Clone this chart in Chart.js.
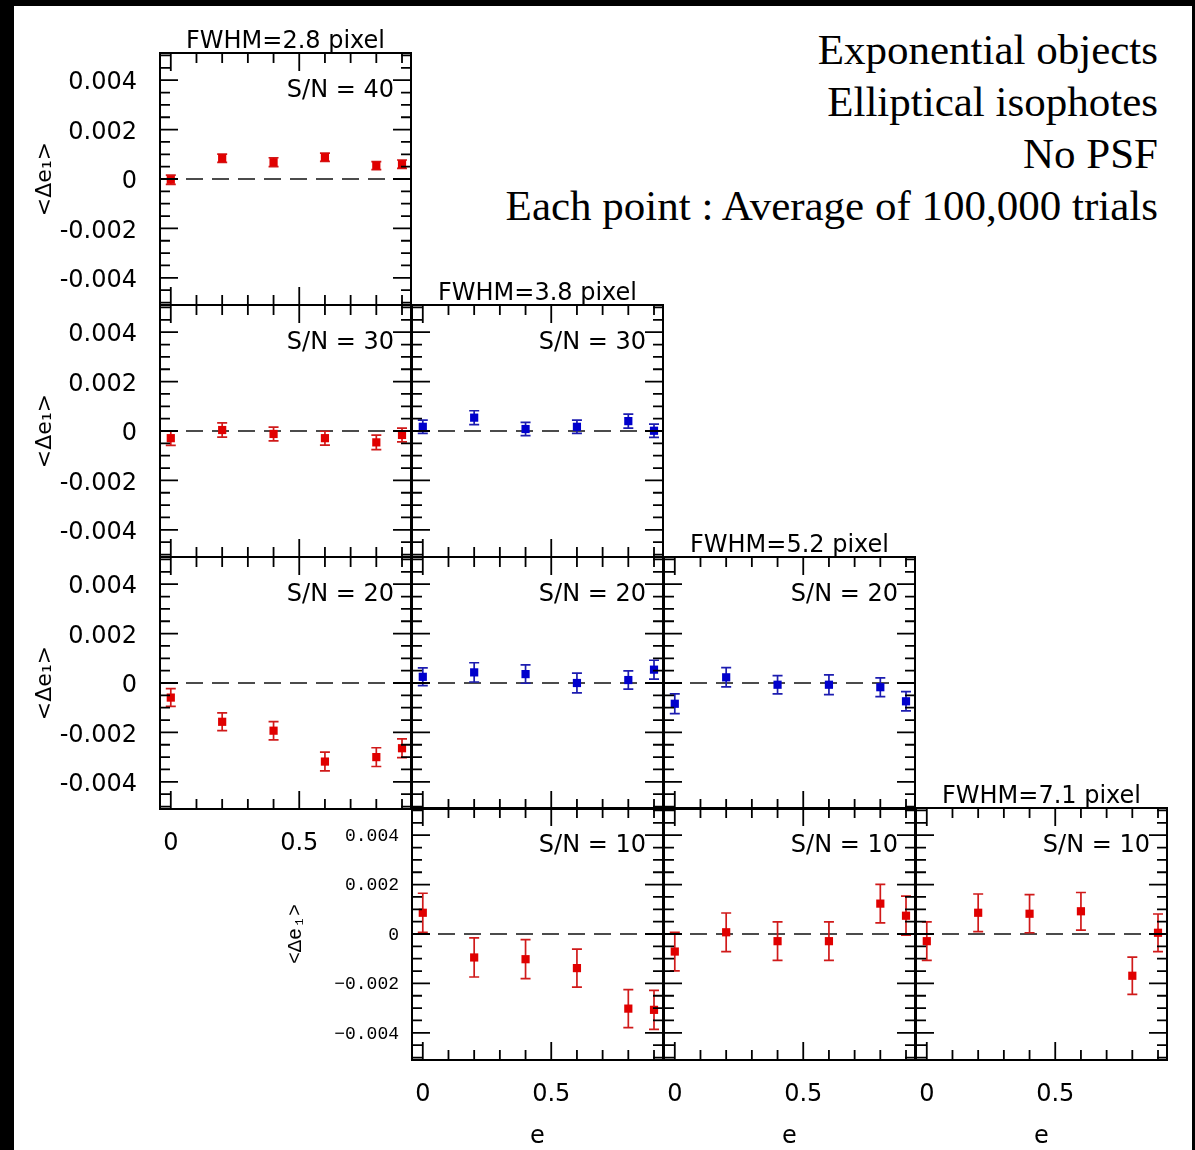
<!DOCTYPE html>
<html>
<head>
<meta charset="utf-8">
<script src="https://cdn.jsdelivr.net/npm/chart.js@4.4.1/dist/chart.umd.min.js"></script>
<style>
  html, body { margin: 0; padding: 0; background: #fff; width: 1195px; height: 1150px; overflow: hidden; }
  #frame { position: absolute; left: 0; top: 0; width: 1195px; height: 1150px; box-sizing: border-box;
           border-left: 14px solid #000; border-top: 6px solid #000; border-right: 3px solid #000; }
  .panel { position: absolute; }
  #notes { position: absolute; right: 37px; top: 24px; text-align: right; white-space: nowrap;
           font-family: "Liberation Serif", "Times New Roman", serif; font-size: 43px; line-height: 52px; color: #000; }
</style>
</head>
<body>
<div id="frame"></div>
<div id="notes">Exponential objects<br>Elliptical isophotes<br>No PSF<br>Each point : Average of 100,000 trials</div>
<script>
// ellipticity values sampled in every panel
const eValues = [0, 0.2, 0.4, 0.6, 0.8, 0.9];

// panel captions
const fwhmLabels = ['FWHM=2.8 pixel', 'FWHM=3.8 pixel', 'FWHM=5.2 pixel', 'FWHM=7.1 pixel'];
const snLabels = ['S/N = 40', 'S/N = 30', 'S/N = 20', 'S/N = 10'];

// tick values and labels
const xMajorTicks = [0, 0.5];
const xMinorTicks = [0.1, 0.2, 0.3, 0.4, 0.6, 0.7, 0.8, 0.9];
const xTickLabels = ['0', '0.5'];
const yMajorTicks = [-0.004, -0.002, 0, 0.002, 0.004];
const yMinorTicks = [-0.005, -0.0045, -0.0035, -0.003, -0.0025, -0.0015, -0.001, -0.0005,
                     0.0005, 0.001, 0.0015, 0.0025, 0.003, 0.0035, 0.0045, 0.005];
const yTickLabels = ['-0.004', '-0.002', '0', '0.002', '0.004'];
const yTickLabelsAlt = ['\u22120.004', '\u22120.002', '0', '0.002', '0.004'];

// mean <Δe1> and its error bar for each (S/N, FWHM) panel
const sn40_fw28     = [-0.00003, 0.00084, 0.00068, 0.00088, 0.00054, 0.00060];
const sn40_fw28_err = [0.00019, 0.00017, 0.00018, 0.00017, 0.00016, 0.00017];
const sn30_fw28     = [-0.00029, 0.00004, -0.00012, -0.00029, -0.00046, -0.00016];
const sn30_fw28_err = [0.00029, 0.00029, 0.00028, 0.00028, 0.00029, 0.00028];
const sn30_fw38     = [0.00017, 0.00054, 0.00008, 0.00017, 0.00040, 0.00001];
const sn30_fw38_err = [0.00027, 0.00028, 0.00027, 0.00027, 0.00028, 0.00027];
const sn20_fw28     = [-0.00059, -0.00157, -0.00193, -0.00318, -0.00300, -0.00264];
const sn20_fw28_err = [0.00036, 0.00036, 0.00037, 0.00038, 0.00038, 0.00038];
const sn20_fw38     = [0.00025, 0.00043, 0.00036, 0.00000, 0.00012, 0.00054];
const sn20_fw38_err = [0.00036, 0.00039, 0.00037, 0.00040, 0.00037, 0.00038];
const sn20_fw52     = [-0.00084, 0.00023, -0.00007, -0.00007, -0.00017, -0.00074];
const sn20_fw52_err = [0.00040, 0.00039, 0.00037, 0.00040, 0.00038, 0.00039];
const sn10_fw38     = [0.00086, -0.00095, -0.00102, -0.00138, -0.00302, -0.00307];
const sn10_fw38_err = [0.00079, 0.00079, 0.00079, 0.00077, 0.00077, 0.00079];
const sn10_fw52     = [-0.00071, 0.00007, -0.00029, -0.00029, 0.00123, 0.00074];
const sn10_fw52_err = [0.00078, 0.00078, 0.00078, 0.00078, 0.00078, 0.00079];
const sn10_fw71     = [-0.00029, 0.00086, 0.00082, 0.00092, -0.00169, 0.00005];
const sn10_fw71_err = [0.00078, 0.00076, 0.00077, 0.00076, 0.00075, 0.00076];

// grid geometry
const COL_LEFT = [160, 412, 664, 916];
const ROW_TOP = [53, 305, 557, 808];
const PANEL_W = 251, PANEL_H = 252;
const PAD_L = 150, PAD_R = 12, PAD_T = 60, PAD_B = 100;
const X_MIN = -0.042, X_MAX = 0.935, Y_MIN = -0.0051, Y_MAX = 0.0051;

const RED = '#e00000', RED_BAR = '#d01a1a', BLUE = '#0000cc', BLUE_BAR = '#1c1cb0';
const SANS = '"DejaVu Sans", Arial, sans-serif';
const MONO = '"Liberation Mono", "DejaVu Sans Mono", monospace';

const panels = [
  { row: 0, col: 0, mean: sn40_fw28, err: sn40_fw28_err, color: RED,  bar: RED_BAR,  title: fwhmLabels[0], yAxis: 'main', xAxis: false, eTitle: false },
  { row: 1, col: 0, mean: sn30_fw28, err: sn30_fw28_err, color: RED,  bar: RED_BAR,  title: null,          yAxis: 'main', xAxis: false, eTitle: false },
  { row: 1, col: 1, mean: sn30_fw38, err: sn30_fw38_err, color: BLUE, bar: BLUE_BAR, title: fwhmLabels[1], yAxis: null,   xAxis: false, eTitle: false },
  { row: 2, col: 0, mean: sn20_fw28, err: sn20_fw28_err, color: RED,  bar: RED_BAR,  title: null,          yAxis: 'main', xAxis: true,  eTitle: false },
  { row: 2, col: 1, mean: sn20_fw38, err: sn20_fw38_err, color: BLUE, bar: BLUE_BAR, title: null,          yAxis: null,   xAxis: false, eTitle: false },
  { row: 2, col: 2, mean: sn20_fw52, err: sn20_fw52_err, color: BLUE, bar: BLUE_BAR, title: fwhmLabels[2], yAxis: null,   xAxis: false, eTitle: false },
  { row: 3, col: 1, mean: sn10_fw38, err: sn10_fw38_err, color: RED,  bar: RED_BAR,  title: null,          yAxis: 'alt',  xAxis: true,  eTitle: true },
  { row: 3, col: 2, mean: sn10_fw52, err: sn10_fw52_err, color: RED,  bar: RED_BAR,  title: null,          yAxis: null,   xAxis: true,  eTitle: true },
  { row: 3, col: 3, mean: sn10_fw71, err: sn10_fw71_err, color: RED,  bar: RED_BAR,  title: fwhmLabels[3], yAxis: null,   xAxis: true,  eTitle: true }
];

const CAP = 5;
const MAJOR_LEN = 18, MINOR_LEN = 10;

// zero line, error bars, inward ticks, frame and captions
const panelDecor = {
  id: 'panelDecor',
  beforeDatasetsDraw(chart) {
    const { ctx, chartArea: a, scales: { x, y } } = chart;
    ctx.save();
    ctx.strokeStyle = '#111';
    ctx.lineWidth = 1.6;
    ctx.setLineDash([17, 9]);
    const y0 = y.getPixelForValue(0);
    ctx.beginPath();
    ctx.moveTo(a.left, y0);
    ctx.lineTo(a.right, y0);
    ctx.stroke();
    ctx.setLineDash([]);
    chart.data.datasets.forEach(ds => {
      ctx.strokeStyle = ds.barColor;
      ctx.lineWidth = 1.7;
      ds.data.forEach((pt, i) => {
        const px = x.getPixelForValue(pt.x);
        const top = y.getPixelForValue(pt.y + ds.errors[i]);
        const bot = y.getPixelForValue(pt.y - ds.errors[i]);
        ctx.beginPath();
        ctx.moveTo(px, top); ctx.lineTo(px, bot);
        ctx.moveTo(px - CAP, top); ctx.lineTo(px + CAP, top);
        ctx.moveTo(px - CAP, bot); ctx.lineTo(px + CAP, bot);
        ctx.stroke();
      });
    });
    ctx.restore();
  },
  afterDraw(chart, args, opts) {
    const { ctx, chartArea: a, scales: { x, y } } = chart;
    ctx.save();
    ctx.strokeStyle = '#000';
    ctx.lineWidth = 1.8;
    ctx.beginPath();
    const xt = (list, len) => list.forEach(v => {
      const px = x.getPixelForValue(v);
      ctx.moveTo(px, a.top); ctx.lineTo(px, a.top + len);
      ctx.moveTo(px, a.bottom); ctx.lineTo(px, a.bottom - len);
    });
    const yt = (list, len) => list.forEach(v => {
      const py = y.getPixelForValue(v);
      ctx.moveTo(a.left, py); ctx.lineTo(a.left + len, py);
      ctx.moveTo(a.right, py); ctx.lineTo(a.right - len, py);
    });
    xt(xMajorTicks, MAJOR_LEN); xt(xMinorTicks, MINOR_LEN);
    yt(yMajorTicks, MAJOR_LEN); yt(yMinorTicks, MINOR_LEN);
    ctx.stroke();
    ctx.lineWidth = 2;
    ctx.strokeRect(a.left, a.top, a.right - a.left, a.bottom - a.top);

    ctx.fillStyle = '#000';
    ctx.font = '24px ' + SANS;
    ctx.textBaseline = 'alphabetic';
    ctx.textAlign = 'right';
    ctx.fillText(opts.sn, a.right - 17, a.top + 44);
    if (opts.title) {
      ctx.textAlign = 'center';
      ctx.fillText(opts.title, (a.left + a.right) / 2, a.top - 5);
    }
    ctx.restore();
  }
};

function buildPanel(p) {
  const w = PANEL_W + PAD_L + PAD_R, h = PANEL_H + PAD_T + PAD_B;
  const holder = document.createElement('div');
  holder.className = 'panel';
  holder.style.left = (COL_LEFT[p.col] - PAD_L) + 'px';
  holder.style.top = (ROW_TOP[p.row] - PAD_T) + 'px';
  holder.style.width = w + 'px';
  holder.style.height = h + 'px';
  const canvas = document.createElement('canvas');
  canvas.width = w; canvas.height = h;
  canvas.style.width = w + 'px'; canvas.style.height = h + 'px';
  holder.appendChild(canvas);
  document.body.appendChild(holder);

  const alt = p.yAxis === 'alt';
  const yFont = alt ? { family: MONO, size: 18 } : { family: SANS, size: 24 };
  const yLabels = alt ? yTickLabelsAlt : yTickLabels;

  new Chart(canvas, {
    type: 'scatter',
    data: {
      datasets: [{
        data: eValues.map((e, i) => ({ x: e, y: p.mean[i] })),
        errors: p.err,
        barColor: p.bar,
        backgroundColor: p.color,
        borderColor: p.color,
        borderWidth: 0,
        pointStyle: 'rect',
        pointRadius: 5.8,
        pointHoverRadius: 5.8
      }]
    },
    options: {
      responsive: false,
      animation: false,
      devicePixelRatio: 1,
      events: [],
      layout: { padding: { top: PAD_T, right: PAD_R, left: 0, bottom: 0 } },
      plugins: {
        legend: { display: false },
        tooltip: { enabled: false },
        panelDecor: { sn: snLabels[p.row], title: p.title }
      },
      scales: {
        x: {
          type: 'linear', position: 'bottom', min: X_MIN, max: X_MAX,
          afterBuildTicks: s => { s.ticks = xMajorTicks.map(v => ({ value: v })); },
          afterFit: s => { s.height = PAD_B; },
          grid: { display: false, drawTicks: false, tickLength: 0 },
          border: { display: false },
          ticks: {
            display: p.xAxis, autoSkip: false, maxRotation: 0, padding: 20, color: '#000',
            font: { family: SANS, size: 24 },
            callback: (v, i) => xTickLabels[i]
          },
          title: {
            display: p.eTitle, text: 'e', color: '#000',
            font: { family: SANS, size: 24 }, padding: { top: 0, bottom: 9 }
          }
        },
        y: {
          type: 'linear', position: 'left', min: Y_MIN, max: Y_MAX,
          afterBuildTicks: s => { s.ticks = yMajorTicks.map(v => ({ value: v })); },
          afterFit: s => { s.width = PAD_L; },
          grid: { display: false, drawTicks: false, tickLength: 0 },
          border: { display: false },
          ticks: {
            display: !!p.yAxis, autoSkip: false, padding: alt ? 13 : 23, color: '#000',
            labelOffset: alt ? 1 : 3,
            font: yFont,
            callback: (v, i) => yLabels[i]
          },
          title: {
            display: !!p.yAxis, text: '<\u0394e\u2081>', color: '#000',
            font: alt ? { family: MONO, size: 20 } : { family: SANS, size: 22 },
            padding: { top: 22, bottom: 0 }
          }
        }
      }
    },
    plugins: [panelDecor]
  });
}

panels.forEach(buildPanel);
</script>
</body>
</html>
